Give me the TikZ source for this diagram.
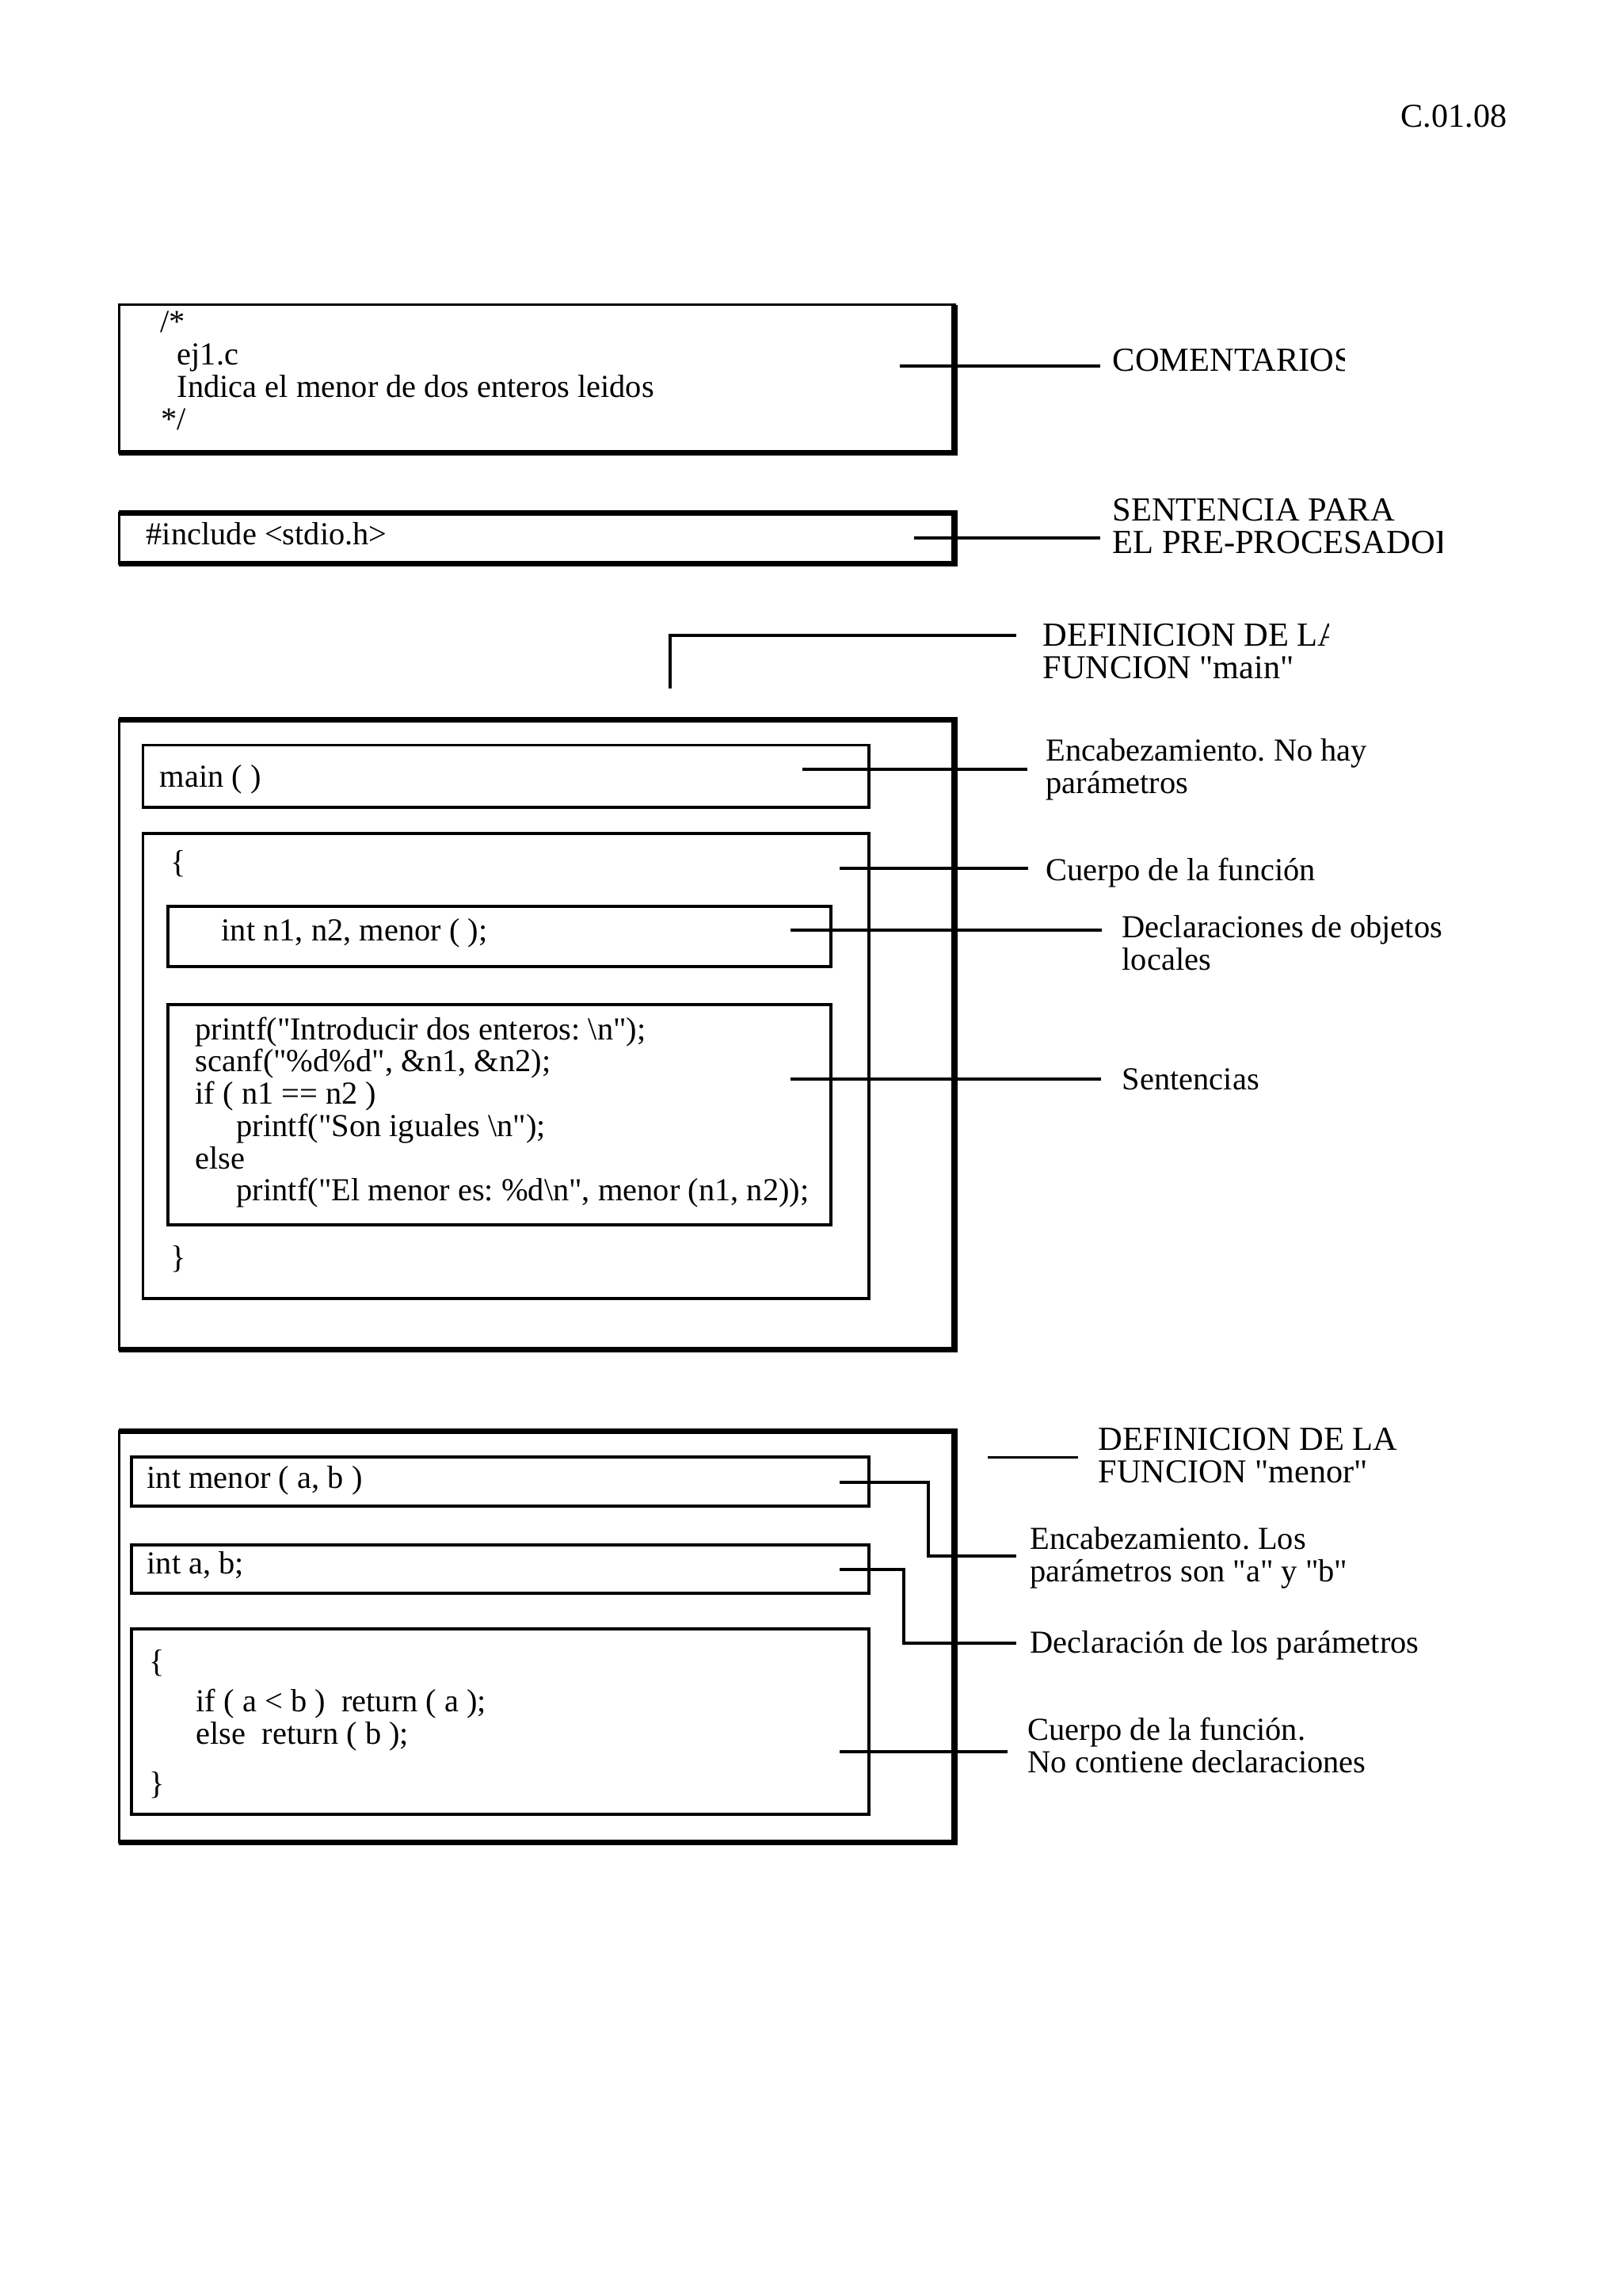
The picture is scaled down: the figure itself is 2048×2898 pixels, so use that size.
\documentclass[tikz,border=0pt]{standalone}
\usepackage{fontspec}
\newfontfamily\rmx{Liberation Serif}
\frenchspacing
\begin{document}
\begin{tikzpicture}[x=0.0102539cm,y=-0.0102539cm,
  thinb/.style={line width=0.875pt},
  thickb/.style={line width=2.05pt,line join=miter},
  inb/.style={line width=0.95pt},
  conn/.style={line width=0.95pt},
  txt/.style={anchor=base west,inner sep=0pt,font=\rmx\frenchspacing\fontsize{11.8}{14}\selectfont},
  captxt/.style={txt,font=\rmx\frenchspacing\fontsize{12.3}{14}\selectfont},
  lbl/.style={anchor=base west,inner ysep=0pt,inner xsep=#1,font=\rmx\frenchspacing\fontsize{11.8}{14}\selectfont},
  caplbl/.style={lbl=#1,font=\rmx\frenchspacing\fontsize{12.4}{14}\selectfont}]
\fill[white] (0,0) rectangle (2048,2898);
\useasboundingbox (0,0) rectangle (2048,2898);

\node[captxt,anchor=base east] (code) at (1903,160) {C.01.08};

% ---------- comment box
\coordinate (b1a) at (150,384.5); \coordinate (b1b) at (1205,571);
\draw[thinb] (b1a) rectangle (b1b);
\draw[thickb] (b1a -| b1b) -- (b1b) -- (b1b -| b1a);
\node[txt] (t1) at (202,419) {/*};
\node[txt] (t2) at (223,460) {ej1.c};
\node[txt] (t3) at (223,501) {Indica el menor de dos enteros leidos};
\node[txt] (t4) at (203,542) {*/};
\coordinate (kcom) at (1136,462);
\begin{scope}
  \clip (1300,400) rectangle (1697,520);
  \node[caplbl=4.375pt] (lcom) at (1389,468) {COMENTARIOS};
\end{scope}
\draw[conn] (kcom) -- (kcom -| lcom.west);

% ---------- include box
\coordinate (b2a) at (150,647); \coordinate (b2b) at (1205,711.5);
\draw[thinb] (b2a) rectangle (b2b);
\draw[thickb] (b2a) -- (b2a -| b2b) -- (b2b) -- (b2b -| b2a);
\node[txt] (inc) at (184,687) {\#include <stdio.h>};
\node[caplbl=4.375pt] (lsen1) at (1389,657) {SENTENCIA PARA};
\begin{scope}
  \clip (1300,660) rectangle (1820,720);
  \node[caplbl=4.375pt] (lsen2) at (1389,698) {EL PRE-PROCESADOR};
\end{scope}
\coordinate (kinc) at (1154,679);
\draw[conn] (kinc) -- (kinc -| lsen2.west);

% ---------- main definition
\begin{scope}
  \clip (1250,760) rectangle (1677,830);
  \node[caplbl=9.625pt] (ldm1) at (1283,815) {DEFINICION DE LA};
\end{scope}
\node[captxt] (ldm2) at (1316,856) {FUNCION "main"};
\coordinate (kdm) at (846,869); \coordinate (jdm) at (846,802);
\draw[conn] (kdm) -- (jdm) -- (jdm -| ldm1.west);

\coordinate (b3a) at (150,908.5); \coordinate (b3b) at (1205,1703.5);
\draw[thinb] (b3a) rectangle (b3b);
\draw[thickb] (b3a) -- (b3a -| b3b) -- (b3b) -- (b3b -| b3a);

% main ( )
\draw[inb] (180.5,940.5) rectangle (1097,1019);
\node[txt] (mhead) at (201,993) {main ( )};
\node[lbl=6.7pt] (lenc1) at (1297,960) {Encabezamiento. No hay};
\node[txt] (lenc2) at (1320,1001) {parámetros};
\coordinate (kenc) at (1013,971);
\draw[conn] (kenc) -- (kenc -| lenc1.west);

% body
\draw[inb] (180.5,1052) rectangle (1097,1639);
\node[txt] (ob) at (215,1101) {\{};
\node[txt] (cb) at (215,1600) {\}};
\node[lbl=6.4pt] (lcue) at (1298,1111) {Cuerpo de la función};
\coordinate (kcue) at (1060,1096);
\draw[conn] (kcue) -- (kcue -| lcue.west);

% declarations
\draw[inb] (212,1144) rectangle (1049,1220);
\node[txt] (decl) at (279,1187) {int n1, n2, menor ( );};
\node[lbl=7.3pt] (ldec1) at (1391,1183) {Declaraciones de objetos};
\node[txt] (ldec2) at (1416,1224) {locales};
\coordinate (kdec) at (998,1174);
\draw[conn] (kdec) -- (kdec -| ldec1.west);

% sentences
\draw[inb] (212,1268) rectangle (1049,1546);
\node[txt] (s1) at (246,1312) {printf("Introducir dos enteros: \textbackslash n");};
\node[txt] (s2) at (246,1352) {scanf("\%d\%d", \&n1, \&n2);};
\node[txt] (s3) at (246,1393) {if ( n1 == n2 )};
\node[txt] (s4) at (298,1434) {printf("Son iguales \textbackslash n");};
\node[txt] (s5) at (246,1475) {else};
\node[txt] (s6) at (298,1515) {printf("El menor es: \%d\textbackslash n", menor (n1, n2));};
\node[lbl=7.6pt] (lsent) at (1390,1375) {Sentencias};
\coordinate (ksent) at (998,1362);
\draw[conn] (ksent) -- (ksent -| lsent.west);

% ---------- menor definition
\coordinate (b4a) at (150,1806); \coordinate (b4b) at (1205,2325);
\draw[thinb] (b4a) rectangle (b4b);
\draw[thickb] (b4a) -- (b4a -| b4b) -- (b4b) -- (b4b -| b4a);

\node[caplbl=7.3pt] (ldf1) at (1361,1830) {DEFINICION DE LA};
\node[captxt] (ldf2) at (1386,1871) {FUNCION "menor"};
\coordinate (kdf) at (1247,1839.5);
\draw[conn] (kdf) -- (kdf -| ldf1.west);

\draw[inb] (166,1839) rectangle (1097,1901);
\node[txt] (nhead) at (185,1878) {int menor ( a, b )};
\draw[inb] (166,1950) rectangle (1097,2011);
\node[txt] (npar) at (185,1986) {int a, b;};
\draw[inb] (166,2056) rectangle (1097,2290);
\node[txt] (nob) at (188,2110) {\{};
\node[txt] (nb1) at (247,2160) {if ( a < b )\ \ return ( a );};
\node[txt] (nb2) at (247,2201) {else\ \ return ( b );};
\node[txt] (ncb) at (188,2264) {\}};

\node[lbl=4.96pt] (lne1) at (1283,1955) {Encabezamiento. Los};
\node[txt] (lne2) at (1300,1996) {parámetros son "a" y "b"};
\coordinate (kne) at (1060,1871); \coordinate (jne) at (1172,1964);
\draw[conn] (kne) -| (jne) -- (jne -| lne1.west);

\node[lbl=4.96pt] (lnp) at (1283,2086) {Declaración de los parámetros};
\coordinate (knp) at (1060,1981); \coordinate (jnp) at (1141,2074);
\draw[conn] (knp) -| (jnp) -- (jnp -| lnp.west);

\node[lbl=7.3pt] (lnc1) at (1272,2196) {Cuerpo de la función.};
\node[txt] (lnc2) at (1297,2237) {No contiene declaraciones};
\coordinate (knc) at (1060,2211);
\draw[conn] (knc) -- (knc -| lnc1.west);
\end{tikzpicture}
\end{document}
